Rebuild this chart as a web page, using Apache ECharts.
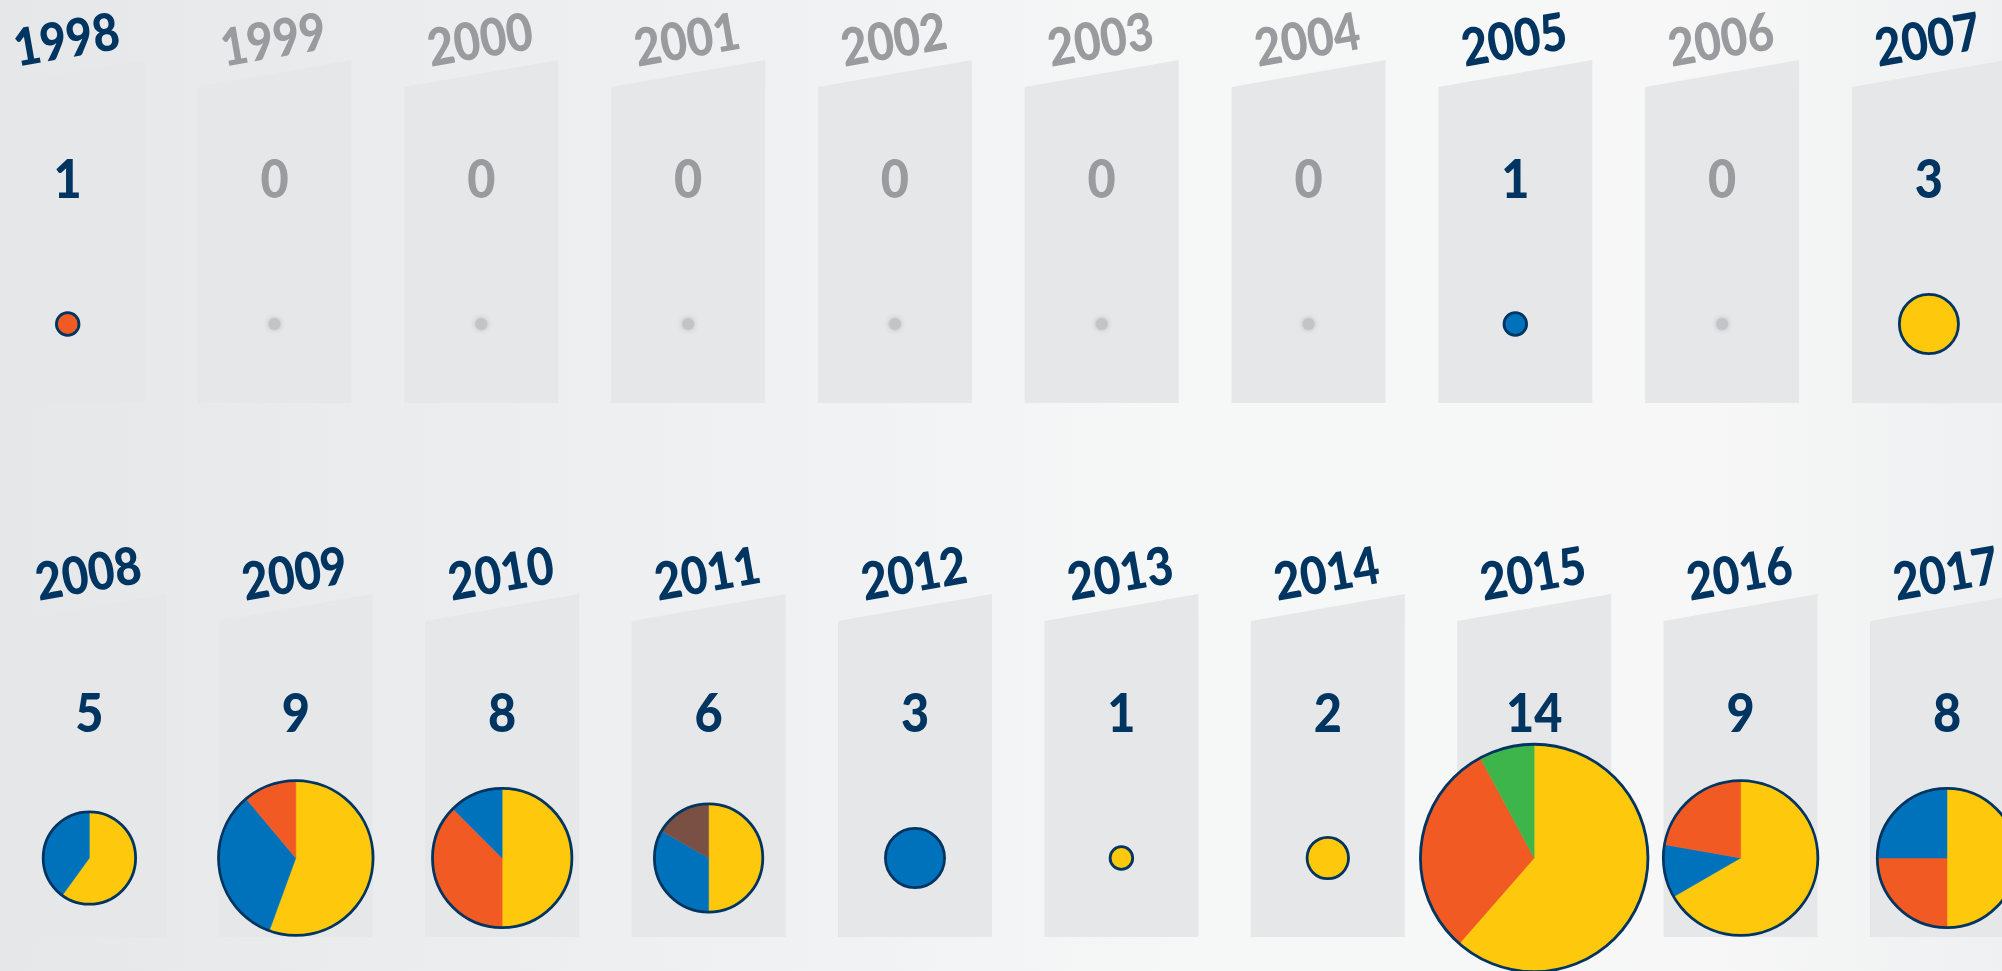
<!DOCTYPE html>
<html>
<head>
<meta charset="utf-8">
<style>
  html, body { margin: 0; padding: 0; }
  #chart { width: 2002px; height: 971px; }
</style>
<script src="https://cdn.jsdelivr.net/npm/echarts@6.0.0/dist/echarts.min.js"></script>
</head>
<body>
<div id="chart"></div>
<script>
// data
const years = ['1998', '1999', '2000', '2001', '2002', '2003', '2004', '2005', '2006', '2007',
  '2008', '2009', '2010', '2011', '2012', '2013', '2014', '2015', '2016', '2017']
const totals = [1, 0, 0, 0, 0, 0, 0, 1, 0, 3, 5, 9, 8, 6, 3, 1, 2, 14, 9, 8]
// slices per year, clockwise from 12 o'clock
const slices = [
  [['orange', 1]],
  [], [], [], [], [], [],
  [['blue', 1]],
  [],
  [['yellow', 3]],
  [['yellow', 3], ['blue', 2]],
  [['yellow', 5], ['blue', 3], ['orange', 1]],
  [['yellow', 4], ['orange', 3], ['blue', 1]],
  [['yellow', 3], ['blue', 2], ['brown', 1]],
  [['blue', 3]],
  [['yellow', 1]],
  [['yellow', 2]],
  [['yellow', 8.6], ['orange', 4.3], ['green', 1.1]],
  [['yellow', 6], ['blue', 1], ['orange', 2]],
  [['yellow', 4], ['orange', 2], ['blue', 2]],
]

const COLORS = {
  yellow: '#fec80c',
  orange: '#f15a22',
  blue: '#0071bb',
  green: '#3db54a',
  brown: '#7a5045',
}
const NAVY = '#003561'
const GREY_TEXT = '#9a9b9f'
const PANEL = '#e6e7e9'
const FONT = 'Lato, "Noto Sans", sans-serif'

function radiusFor(n) {
  return 11.3 * Math.pow(n, 0.875)
}

function renderCell(params, api) {
  const idx = api.value(1)
  const total = totals[idx]
  const rect = params.coordSys
  const top = rect.y
  const height = rect.height
  const cx = api.coord([api.value(0), 0])[0]
  const half = 77
  const textColor = total > 0 ? NAVY : GREY_TEXT
  const cy = top + 264
  const children = []

  children.push({
    type: 'polygon',
    shape: { points: [[cx - half, top + 27], [cx + half, top], [cx + half, top + height], [cx - half, top + height]] },
    style: { fill: PANEL },
  })
  children.push({
    type: 'text',
    x: cx - 1,
    y: top - 19,
    rotation: 10 * Math.PI / 180,
    scaleX: 0.88,
    style: { text: years[idx], font: `900 52px ${FONT}`, fill: textColor, align: 'center', verticalAlign: 'middle' },
  })
  children.push({
    type: 'text',
    x: cx,
    y: top + 121,
    scaleX: 0.9,
    style: { text: String(total), font: `900 54px ${FONT}`, fill: textColor, align: 'center', verticalAlign: 'middle' },
  })

  if (total === 0) {
    children.push({
      type: 'circle',
      shape: { cx, cy, r: 6 },
      style: { fill: '#c3c4c7', shadowBlur: 5, shadowColor: 'rgba(180,181,185,0.9)' },
    })
  } else {
    const r = radiusFor(total)
    const parts = slices[idx]
    const sum = parts.reduce((s, p) => s + p[1], 0)
    let angle = -Math.PI / 2
    parts.forEach(([key, v]) => {
      const end = angle + (v / sum) * Math.PI * 2
      children.push({
        type: 'sector',
        shape: { cx, cy, r0: 0, r, startAngle: angle, endAngle: end, clockwise: true },
        style: { fill: COLORS[key], stroke: COLORS[key], lineWidth: 0.5 },
      })
      angle = end
    })
    children.push({
      type: 'circle',
      shape: { cx, cy, r },
      style: { fill: 'none', stroke: NAVY, lineWidth: 2.8 },
    })
  }
  return { type: 'group', children }
}

function rowSeries(from, to, gridIndex) {
  const data = []
  for (let i = from; i < to; i++) data.push([years[i], i])
  return {
    type: 'custom',
    xAxisIndex: gridIndex,
    yAxisIndex: gridIndex,
    clip: false,
    silent: true,
    renderItem: renderCell,
    data,
  }
}

const chart = echarts.init(document.getElementById('chart'))
chart.setOption({
  animation: false,
  backgroundColor: new echarts.graphic.LinearGradient(0, 0, 1, 0, [
    { offset: 0, color: '#e6e7e9' },
    { offset: 0.35, color: '#eff0f1' },
    { offset: 0.6, color: '#f6f7f7' },
    { offset: 0.85, color: '#f7f7f7' },
    { offset: 1, color: '#eff0f1' },
  ]),
  grid: [
    { left: -35.7, width: 2068, top: 60, height: 343, outerBoundsMode: 'none', containLabel: false },
    { left: -13.8, width: 2064, top: 594, height: 343, outerBoundsMode: 'none', containLabel: false },
  ],
  xAxis: [
    { type: 'category', gridIndex: 0, data: years.slice(0, 10), show: false },
    { type: 'category', gridIndex: 1, data: years.slice(10, 20), show: false },
  ],
  yAxis: [
    { type: 'value', gridIndex: 0, min: 0, max: 1, show: false },
    { type: 'value', gridIndex: 1, min: 0, max: 1, show: false },
  ],
  series: [rowSeries(0, 10, 0), rowSeries(10, 20, 1)],
})
</script>
</body>
</html>
